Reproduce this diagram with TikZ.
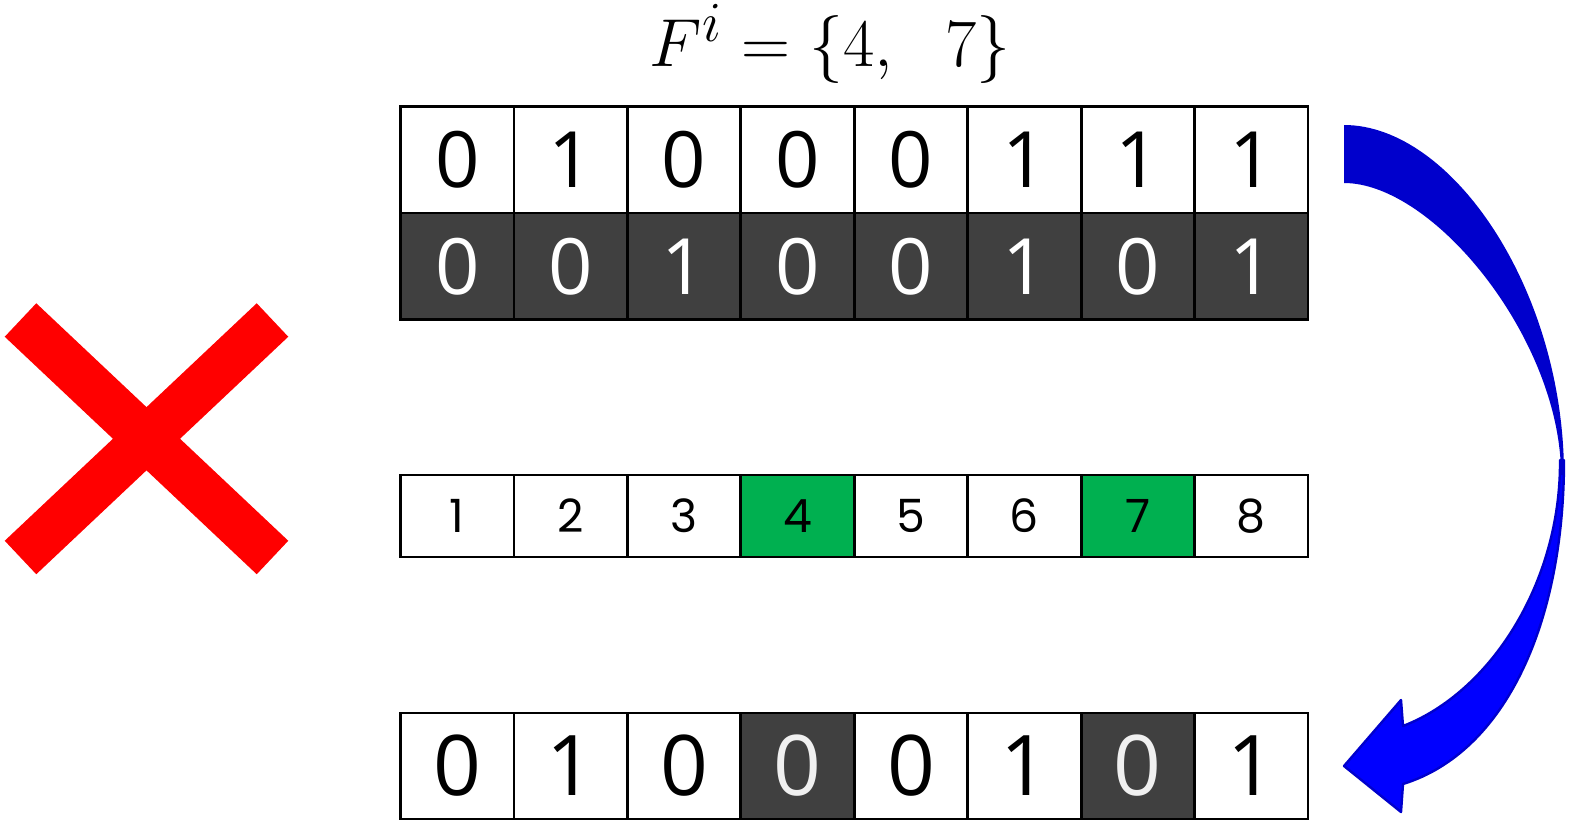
\documentclass[tikz,border=0pt]{standalone}
\usepackage{fontspec}
\newfontfamily\digitfont{Open Sans}
\newfontfamily\idxfont{Poppins}
\definecolor{darkcell}{HTML}{404040}
\definecolor{greencell}{HTML}{00B050}
\definecolor{arrowdark}{HTML}{0000CC}
\definecolor{arrowlight}{HTML}{0000FF}
\definecolor{xred}{HTML}{FF0000}
\definecolor{lightdigit}{HTML}{F0F0F0}
\begin{document}
\begin{tikzpicture}[x=0.5bp,y=-0.5bp,
  cell/.style={draw=black,line width=1.4bp,minimum width=56.72bp,inner sep=0pt,anchor=center},
  bigcell/.style={cell,minimum height=53.4bp,font=\digitfont\fontsize{39}{39}\selectfont},
  midcell/.style={cell,minimum height=41bp,font=\idxfont\fontsize{23}{23}\selectfont},
  botcell/.style={cell,minimum height=53bp,font=\digitfont\fontsize{42}{42}\selectfont},
  darkfill/.style={fill=darkcell,text=white},
  xbar/.style={draw=xred,line width=23bp,line cap=butt}]
\useasboundingbox (0,0) rectangle (1575,830);
% title
\node[font=\fontsize{24.88}{24.88}\selectfont,scale=1.37,inner sep=0pt] (title) at (830,44) {$F^{i} = \{4,\ \ 7\}$};
% top row
\foreach \v [count=\i] in {0,1,0,0,0,1,1,1} {
  \node[bigcell,fill=white] (a\i) at ({400.5+113.44*(\i-0.5)},159.5) {\v};
}
% second row
\foreach \v [count=\i] in {0,0,1,0,0,1,0,1} {
  \node[bigcell,darkfill] (b\i) at ({400.5+113.44*(\i-0.5)},266.3) {\v};
}
% index row
\foreach \v [count=\i] in {1,2,3,4,5,6,7,8} {
  \ifnum\i=4 \def\cf{greencell}\else\ifnum\i=7 \def\cf{greencell}\else\def\cf{white}\fi\fi
  \node[midcell,fill=\cf] (c\i) at ({400.5+113.44*(\i-0.5)},516) {\v};
}
% result row
\foreach \v [count=\i] in {0,1,0,0,0,1,0,1} {
  \ifnum\i=4 \def\cf{darkcell}\def\tf{lightdigit}\else\ifnum\i=7 \def\cf{darkcell}\def\tf{lightdigit}\else\def\cf{white}\def\tf{black}\fi\fi
  \node[botcell,fill=\cf,text=\tf] (d\i) at ({400.5+113.44*(\i-0.5)},766) {\v};
}
% red cross
\coordinate (x1) at (20.5,320);
\coordinate (x2) at (272.5,557.5);
\coordinate (x3) at (20.5,557.5);
\coordinate (x4) at (272.5,320);
\draw[xbar] (x1) -- (x2);
\draw[xbar] (x3) -- (x4);
% blue curved arrow: lower (light) part with head
\filldraw[fill=arrowlight,draw=arrowdark,line width=1.2bp,line join=round]
  (1564,460) .. controls (1564,622) and (1506,752) .. (1403,784)
  -- (1401,812) -- (1344,766) -- (1401,700) -- (1403,726)
  .. controls (1491,692) and (1561,582) .. (1560,460) -- cycle;
% upper (dark) part
\fill[arrowdark] (1344,125) .. controls (1452,125) and (1564,290) .. (1564,475)
  -- (1561,475) .. controls (1561,340) and (1434,183) .. (1344,183) -- cycle;
\end{tikzpicture}
\end{document}
